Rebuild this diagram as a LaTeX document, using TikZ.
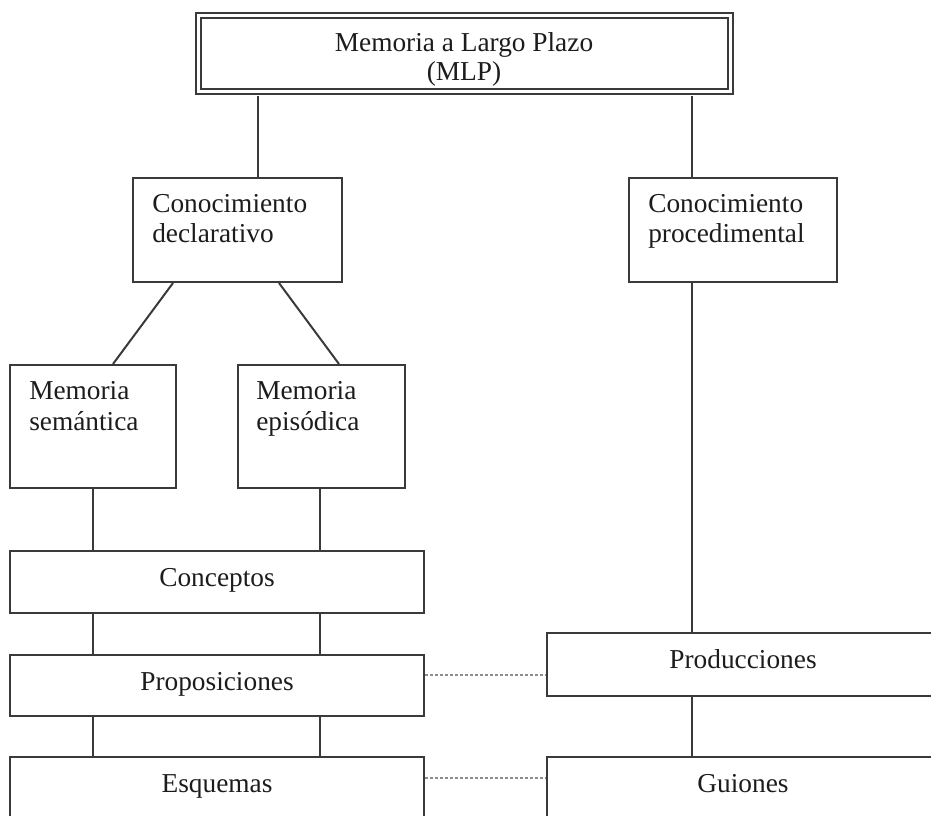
\documentclass[tikz,border=0pt]{standalone}
\usepackage{fontspec}
\setmainfont{Liberation Serif}
\usetikzlibrary{fit,calc}
\definecolor{edge}{HTML}{3A3A3A}
\definecolor{ink}{HTML}{1C1C1C}
\definecolor{link}{HTML}{8C8C8C}
\begin{document}
\begin{tikzpicture}[x=0.75pt,y=-0.75pt,
  box/.style={draw=edge,line width=1.5pt,inner sep=0pt,rectangle},
  mainbox/.style={box,double,double distance=2.25pt},
  txt/.style={text=ink,inner sep=0pt,font=\fontsize{20.5pt}{24pt}\selectfont},
  conn/.style={draw=edge,line width=1.5pt},
  dashlink/.style={draw=link,line width=0.8pt,dash pattern=on 2.25pt off 1.5pt}]
\useasboundingbox (0,0) rectangle (931,816);
\clip (0,0) rectangle (931,816);

% boxes
\node[mainbox,fit={(198.5,15.5) (730.5,91.5)}] (mlp) {};
\node[box,fit={(133,178) (342,282)}] (dec) {};
\node[box,fit={(629,178) (837,282)}] (proc) {};
\node[box,fit={(10,365) (176,488)}] (sem) {};
\node[box,fit={(238,365) (405,488)}] (epi) {};
\node[box,fit={(10,551) (424,613)}] (con) {};
\node[box,fit={(10,655) (424,716)}] (prop) {};
\node[box,fit={(10,757) (424,840)}] (esq) {};
\node[box,fit={(547,633) (945,696)}] (prod) {};
\node[box,fit={(547,757) (945,840)}] (gui) {};

% labels
\node[txt,anchor=base] (mlpA) at (464,52) {Memoria a Largo Plazo};
\node[txt,anchor=base] (mlpB) at (464,81) {(MLP)};
\node[txt,anchor=base west] (decA) at (152,213) {Conocimiento};
\node[txt,anchor=base west] (decB) at (152,243) {declarativo};
\node[txt,anchor=base west] (procA) at (648,213) {Conocimiento};
\node[txt,anchor=base west] (procB) at (648,243) {procedimental};
\node[txt,anchor=base west] (semA) at (29,399) {Memoria};
\node[txt,anchor=base west] (semB) at (29,430) {semántica};
\node[txt,anchor=base west] (epiA) at (256,399) {Memoria};
\node[txt,anchor=base west] (epiB) at (256,430) {episódica};
\node[txt,anchor=base] (conT) at (217,586) {Conceptos};
\node[txt,anchor=base] (propT) at (217,690) {Proposiciones};
\node[txt,anchor=base] (esqT) at (217,792) {Esquemas};
\node[txt,anchor=base] (prodT) at (743,668) {Producciones};
\node[txt,anchor=base] (guiT) at (743,792) {Guiones};

% connectors
\coordinate (lx) at (258,0);
\coordinate (rx) at (692,0);
\draw[conn,shorten <=2.6pt] (mlp.south -| lx) -- (dec.north -| lx);
\draw[conn,shorten <=2.6pt] (mlp.south -| rx) -- (proc.north -| rx);
\draw[conn] (proc.south -| rx) -- (prod.north -| rx);
\draw[conn] (prod.south -| rx) -- (gui.north -| rx);
\draw[conn] ($(dec.south west)+(41,0)$) -- ($(sem.north west)+(104,0)$);
\draw[conn] ($(dec.south west)+(147,0)$) -- ($(epi.north west)+(102,0)$);
\coordinate (cx1) at (93,0);
\coordinate (cx2) at (320,0);
\foreach \c in {cx1,cx2}{
  \draw[conn] (sem.south -| \c) -- (con.north -| \c);
  \draw[conn] (con.south -| \c) -- (prop.north -| \c);
  \draw[conn] (prop.south -| \c) -- (esq.north -| \c);
}
\coordinate (d1) at (0,675);
\coordinate (d2) at (0,778);
\draw[dashlink] (prop.east |- d1) -- (prod.west |- d1);
\draw[dashlink] (esq.east |- d2) -- (gui.west |- d2);
\end{tikzpicture}
\end{document}
